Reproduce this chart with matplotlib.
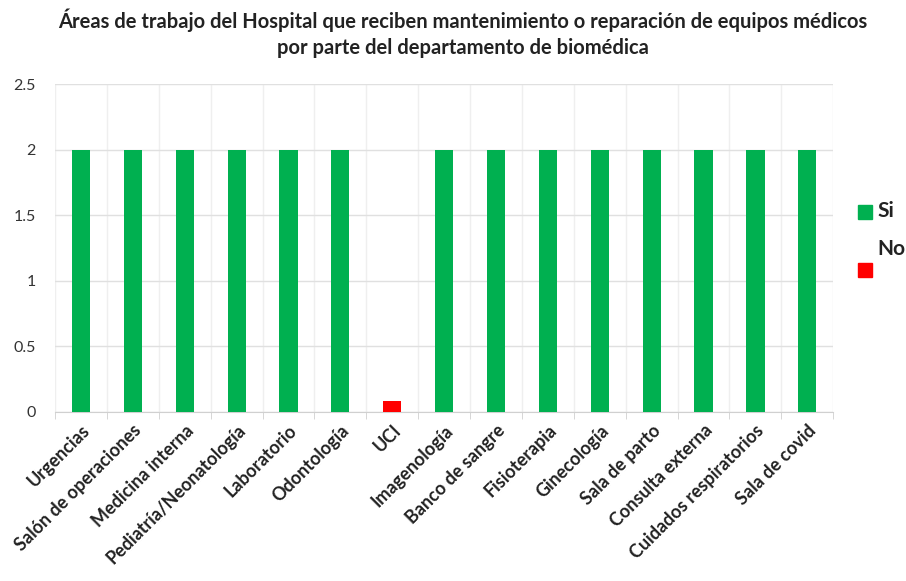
import matplotlib
matplotlib.use("Agg")
import matplotlib.pyplot as plt
from matplotlib.patches import Rectangle
from matplotlib.transforms import ScaledTranslation
import numpy as np

categories = ["Urgencias", "Salón de operaciones", "Medicina interna", "Pediatría/Neonatología",
              "Laboratorio", "Odontología", "UCI", "Imagenología", "Banco de sangre",
              "Fisioterapia", "Ginecología", "Sala de parto", "Consulta externa",
              "Cuidados respiratorios", "Sala de covid"]
si_values = [2, 2, 2, 2, 2, 2, 0, 2, 2, 2, 2, 2, 2, 2, 2]
no_values = [0, 0, 0, 0, 0, 0, 0.08, 0, 0, 0, 0, 0, 0, 0, 0]
yticks = [0, 0.5, 1, 1.5, 2, 2.5]

plt.rcParams['font.family'] = ['Lato', 'DejaVu Sans']

fig = plt.figure(figsize=(9.06, 5.81), dpi=100)
ax = fig.add_axes([0.0607, 0.291, 0.859, 0.564])

x = np.arange(len(categories))
green = "#00B050"
red = "#FF0000"
ax.bar(x, si_values, width=0.35, color=green, zorder=3)
ax.bar(x, no_values, width=0.35, color=red, zorder=3)

ax.set_xlim(-0.5, len(categories) - 0.5)
ax.set_ylim(0, 2.5)
ax.set_yticks(yticks)
ax.set_yticklabels([f"{v:g}" for v in yticks], fontsize=11.5, color="#333333")
ax.yaxis.grid(True, color="#e0e0e0", lw=1, zorder=0)
for b in np.arange(-0.5, len(categories), 1.0):
    ax.axvline(b, color="#efefef", lw=1, zorder=0)
for s in ["top", "right", "left"]:
    ax.spines[s].set_visible(False)
ax.spines["bottom"].set_color("#d0d0d0")
ax.tick_params(axis="y", length=0, pad=14)

ax.set_xticks(x)
labels = ax.set_xticklabels(categories, rotation=45, ha="right", rotation_mode="anchor",
                            fontsize=13, fontweight="bold", color="#222222")
offset = ScaledTranslation(9 / 100, 0, fig.dpi_scale_trans)
for lbl in labels:
    lbl.set_transform(lbl.get_transform() + offset)
ax.tick_params(axis="x", length=0, pad=7)
ax.set_xticks(np.arange(-0.5, len(categories), 1.0), minor=True)
ax.tick_params(axis="x", which="minor", length=5, color="#d0d0d0")

fig.text(0.511, 0.965, "Áreas de trabajo del Hospital que reciben mantenimiento o reparación de equipos médicos",
         ha="center", va="center", fontsize=14.5, fontweight="bold", color="#222222")
fig.text(0.511, 0.917, "por parte del departamento de biomédica",
         ha="center", va="center", fontsize=14.5, fontweight="bold", color="#222222")

# legend
fig.patches.append(Rectangle((858/906, 1 - 219/581), 14/906, 14/581, transform=fig.transFigure,
                             color=green))
fig.text(877/906, 1 - 211/581, "Si", ha="left", va="center", fontsize=15, fontweight="bold", color="#222222")
fig.text(877/906, 1 - 249/581, "No", ha="left", va="center", fontsize=15, fontweight="bold", color="#222222")
fig.patches.append(Rectangle((858/906, 1 - 277/581), 14/906, 14/581, transform=fig.transFigure,
                             color=red))

fig.savefig("out.png", dpi=100)
